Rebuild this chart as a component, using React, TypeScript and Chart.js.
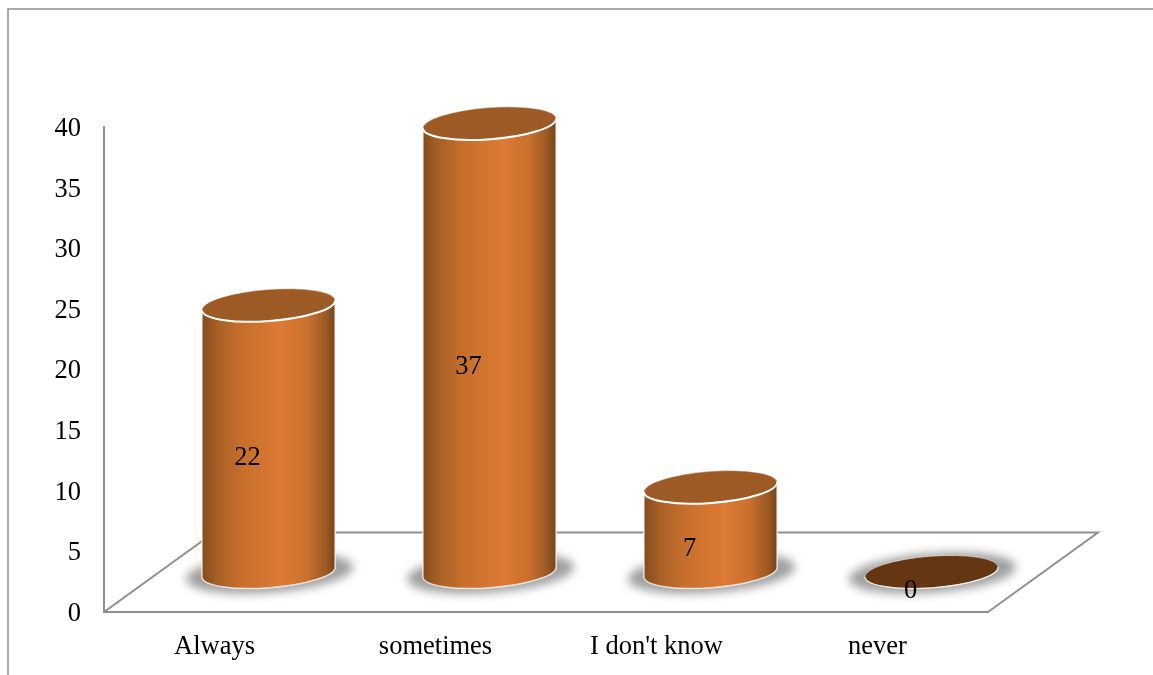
import { useEffect, useRef } from "react";
import { Chart, registerables } from "chart.js";

Chart.register(...registerables);

const categories = ["Always", "sometimes", "I don't know", "never"];
const responses = [22, 37, 7, 0];
const yMax = 40;
const yStep = 5;

const SERIF = "'Liberation Serif', 'Times New Roman', serif";
const AXIS_GREY = "#8f8f8f";
const TOP_FACE = "#9e5a24";
const EMPTY_FACE = "#643712";
const FONT_SIZE = 26.5;

// Perspective of the pseudo-3D floor and of the cylinders standing on it.
const FLOOR_DX = 110;
const FLOOR_DY = 79.5;
const BAR_DX = 54;
const BAR_DY = 40;
const TILT = -Math.atan(10 / 132);
const MINOR = 15.8;

const cylinderPlugin = {
  id: "cylinders",
  beforeDraw(chart: any) {
    const { ctx, width, height } = chart;
    ctx.save();
    ctx.fillStyle = "#fff";
    ctx.fillRect(0, 0, width, height);
    // outer chart frame, open on the right and at the bottom
    ctx.strokeStyle = AXIS_GREY;
    ctx.lineWidth = 1.5;
    ctx.beginPath();
    ctx.moveTo(8, height);
    ctx.lineTo(8, 9);
    ctx.lineTo(width, 9);
    ctx.stroke();
    ctx.restore();
  },
  beforeDatasetsDraw(chart: any) {
    const { ctx, chartArea } = chart;
    const { left, right, bottom } = chartArea;
    ctx.save();
    ctx.strokeStyle = AXIS_GREY;
    ctx.lineWidth = 2;
    ctx.lineJoin = "miter";
    ctx.beginPath();
    ctx.moveTo(left, bottom);
    ctx.lineTo(left + FLOOR_DX, bottom - FLOOR_DY);
    ctx.lineTo(right + FLOOR_DX, bottom - FLOOR_DY);
    ctx.lineTo(right, bottom);
    ctx.stroke();
    ctx.restore();
  },
  afterDatasetsDraw(chart: any) {
    const { ctx } = chart;
    const bars = chart.getDatasetMeta(0).data;
    bars.forEach((bar: any, i: number) => {
      const a = bar.width / 2 + 0.5;
      const cx = bar.x + BAR_DX;
      const topY = bar.y - BAR_DY;
      const baseY = bar.base - BAR_DY;

      // soft ground shadow
      ctx.save();
      ctx.filter = "blur(5px)";
      ctx.fillStyle = "#a0a0a0";
      ctx.beginPath();
      ctx.ellipse(cx + 1, baseY + 1, a + 17, MINOR + 4, TILT, 0, Math.PI * 2);
      ctx.fill();
      ctx.restore();

      ctx.save();
      if (responses[i] > 0) {
        const g = ctx.createLinearGradient(cx - a, 0, cx + a, 0);
        g.addColorStop(0, "#844c1e");
        g.addColorStop(0.12, "#a86026");
        g.addColorStop(0.3, "#c66f2d");
        g.addColorStop(0.6, "#dd7a34");
        g.addColorStop(0.8, "#c86f2d");
        g.addColorStop(0.93, "#9a5924");
        g.addColorStop(1, "#74441b");
        ctx.beginPath();
        ctx.ellipse(cx, baseY, a, MINOR, TILT, 0, Math.PI);
        ctx.ellipse(cx, topY, a, MINOR, TILT, Math.PI, Math.PI * 2);
        ctx.closePath();
        ctx.fillStyle = g;
        ctx.fill();
        ctx.strokeStyle = "rgba(255,255,255,0.75)";
        ctx.lineWidth = 1.5;
        ctx.stroke();
      }
      ctx.beginPath();
      ctx.ellipse(cx, topY, a, MINOR, TILT, 0, Math.PI * 2);
      ctx.fillStyle = responses[i] > 0 ? TOP_FACE : EMPTY_FACE;
      ctx.fill();
      ctx.strokeStyle = "rgba(255,255,255,0.5)";
      ctx.lineWidth = 1;
      ctx.stroke();
      ctx.beginPath();
      ctx.ellipse(cx, topY, a, MINOR, TILT, 0, Math.PI);
      ctx.strokeStyle = responses[i] > 0 ? "#fff" : "rgba(255,255,255,0.8)";
      ctx.lineWidth = responses[i] > 0 ? 2 : 1.2;
      ctx.stroke();
      ctx.restore();

      // value label
      ctx.save();
      ctx.fillStyle = "#000";
      ctx.font = `${FONT_SIZE}px ${SERIF}`;
      ctx.textAlign = "center";
      ctx.textBaseline = "middle";
      ctx.fillText(String(responses[i]), cx - 21, (topY + baseY) / 2 + 19.5);
      ctx.restore();
    });
  },
};

export default function App() {
  const ref = useRef<HTMLCanvasElement | null>(null);

  useEffect(() => {
    const chart = new Chart(ref.current as HTMLCanvasElement, {
      type: "bar",
      data: {
        labels: categories,
        datasets: [
          {
            data: responses,
            backgroundColor: "rgba(0,0,0,0)",
            borderWidth: 0,
            barPercentage: 0.6,
            categoryPercentage: 1,
          },
        ],
      },
      options: {
        responsive: false,
        animation: false,
        layout: { padding: { left: 54, right: 165, top: 127, bottom: 3 } },
        plugins: { legend: { display: false }, tooltip: { enabled: false } },
        scales: {
          x: {
            afterFit: (s: any) => {
              s.height = 60;
            },
            grid: { display: false, drawTicks: false },
            border: { color: AXIS_GREY, width: 2 },
            ticks: {
              color: "#000",
              font: { family: SERIF, size: FONT_SIZE },
              padding: 19,
              maxRotation: 0,
              autoSkip: false,
            },
          },
          y: {
            min: 0,
            max: yMax,
            afterFit: (s: any) => {
              s.width = 50;
            },
            grid: { display: false, drawTicks: false },
            border: { color: AXIS_GREY, width: 2 },
            ticks: {
              stepSize: yStep,
              color: "#000",
              font: { family: SERIF, size: FONT_SIZE },
              padding: 23,
              labelOffset: 2,
            },
          },
        },
      },
      plugins: [cylinderPlugin],
    });
    return () => chart.destroy();
  }, []);

  return (
    <div style={{ position: "fixed", left: 0, top: 0, width: 1153, height: 675 }}>
      <canvas ref={ref} width={1153} height={675} style={{ display: "block" }} />
    </div>
  );
}
